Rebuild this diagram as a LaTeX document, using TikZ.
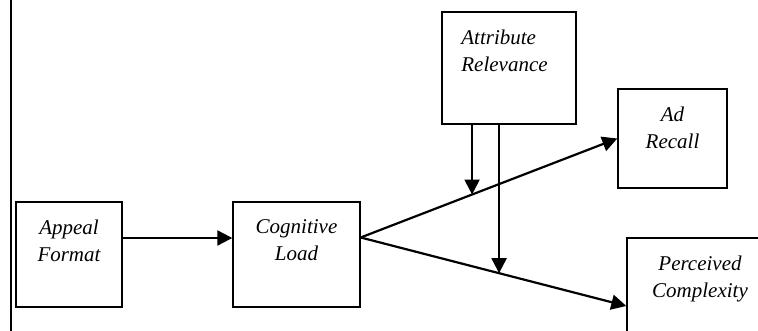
\documentclass[tikz,border=0pt]{standalone}
\usepackage{fontspec}
\setmainfont{Liberation Serif}
\usetikzlibrary{positioning,arrows.meta,calc}

\begin{document}
\begin{tikzpicture}[x=1pt, y=-1pt, node distance=18pt,
    box/.style={draw, line width=1.4pt, inner sep=0pt},
    txt/.style={inner sep=0pt, align=center, font=\fontsize{21}{27}\selectfont\itshape},
    link/.style={line width=2.2pt, -{Triangle[length=15pt,width=15pt]}}]
    \clip (0,0) rectangle (758,331);
    \draw[line width=2pt] (10.5,0) -- (10.5,331);

    % boxes
    \node[box, minimum width=106pt, minimum height=105pt] (AF) at (69,254.5) {};
    \node[box, minimum width=127pt, minimum height=105pt] (CL) at (296.5,254.5) {};
    \node[box, minimum width=134pt, minimum height=112pt] (AR) at (509,68) {};
    \node[box, minimum width=109pt, minimum height=99pt] (REC) at (672.5,138.5) {};
    \node[box, minimum width=146pt, minimum height=136pt] (PC) at (700,306) {};

    % texts
    \node[txt, below=of AF.north] (AFt) {Appeal\\Format};
    \node[txt, below=of CL.north] (CLt) {Cognitive\\Load};
    \node[txt, align=left, below=of AR.north, xshift=-4.5pt] (ARt) {Attribute\\Relevance};
    \node[txt, below=of REC.north] (RECt) {Ad\\Recall};
    \node[txt, below=of PC.north] (PCt) {Perceived\\Complexity};

    % links
    \draw[link] ([yshift=16.5pt]AF.east) -- ([yshift=16.5pt]CL.west);
    \coordinate (CLo) at ([yshift=17pt]CL.east);
    \draw[link] (CLo) -- (REC.west);
    \draw[link] (CLo) -- (PC.west);
    \coordinate (m1) at ($(CLo)!0.434!(REC.west)$);
    \coordinate (m2) at ($(CLo)!0.521!(PC.west)$);
    \draw[link] (m1 |- AR.south) -- (m1);
    \draw[link] (m2 |- AR.south) -- (m2);
\end{tikzpicture}
\end{document}
